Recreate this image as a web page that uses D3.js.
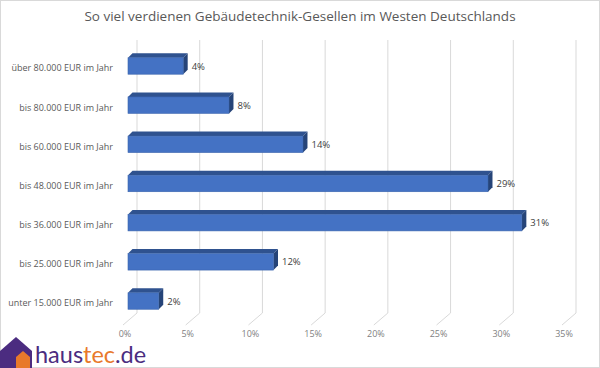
<!DOCTYPE html>
<html><head><meta charset="utf-8">
<script src="https://cdn.jsdelivr.net/npm/d3@7"></script>
<style>body{margin:0;background:#fff}svg{display:block}</style>
</head><body>
<script>
const title = "So viel verdienen Gebäudetechnik-Gesellen im Westen Deutschlands";
const categories = ["über 80.000 EUR im Jahr","bis 80.000 EUR im Jahr","bis 60.000 EUR im Jahr","bis 48.000 EUR im Jahr","bis 36.000 EUR im Jahr","bis 25.000 EUR im Jahr","unter 15.000 EUR im Jahr"];
const values = [4.4, 8.05, 13.95, 28.7, 31.4, 11.6, 2.45];
const labels = ["4%","8%","14%","29%","31%","12%","2%"];
const ticks = [0,5,10,15,20,25,30,35];
const tickLabels = ["0%","5%","10%","15%","20%","25%","30%","35%"];

const W=600,H=368;
const svg=d3.select("body").append("svg").attr("width",W).attr("height",H);
svg.append("rect").attr("x",0.5).attr("y",0.5).attr("width",W-1).attr("height",H-1).attr("fill","#fff").attr("stroke","#d9d9d9");

svg.append("text").attr("x",300).attr("y",21).attr("text-anchor","middle")
  .attr("font-family","Open Sans, sans-serif").attr("font-size",13.5).attr("fill","#595959").text(title);

const x=d3.scaleLinear().domain([0,35]).range([137,576]);
const y=d3.scaleBand().domain(categories).range([46,321]).paddingInner(0.58).paddingOuter(0.3);
const depthX=-14, depthY=12, wallBottom=313;

const g=svg.append("g");
ticks.forEach(t=>{
  g.append("line").attr("x1",x(t)).attr("x2",x(t)).attr("y1",40).attr("y2",wallBottom).attr("stroke","#d9d9d9").attr("stroke-width",1);
  g.append("line").attr("x1",x(t)).attr("x2",x(t)+depthX).attr("y1",wallBottom).attr("y2",wallBottom+depthY).attr("stroke","#d9d9d9").attr("stroke-width",1);
});
ticks.forEach((t,i)=>{
  svg.append("text").attr("x",x(t)+depthX+2).attr("y",336.5).attr("text-anchor","middle")
    .attr("font-family","Open Sans, sans-serif").attr("font-size",9).attr("fill","#7f7f7f").text(tickLabels[i]);
});

const off=-9, d=4.5;
const bars=svg.append("g");
categories.forEach((c,i)=>{
  const x0=x(0)+off, x1=x(values[i])+off, yt=y(c), h=y.bandwidth();
  bars.append("path").attr("d",`M${x0},${yt}L${x0+d},${yt-d}L${x1+d},${yt-d}L${x1},${yt}Z`).attr("fill","#2f528f");
  bars.append("path").attr("d",`M${x1},${yt}L${x1+d},${yt-d}L${x1+d},${yt+h-d}L${x1},${yt+h}Z`).attr("fill","#264478");
  bars.append("rect").attr("x",x0).attr("y",yt).attr("width",x1-x0).attr("height",h).attr("fill","#4472c4").attr("stroke","#3a64ad").attr("stroke-width",0.6);
  svg.append("text").attr("x",x1+d+4).attr("y",yt+h/2+1).attr("dominant-baseline","middle")
    .attr("font-family","Open Sans, sans-serif").attr("font-size",9.5).attr("fill","#404040").text(labels[i]);
  svg.append("text").attr("x",113).attr("y",yt+h/2+3).attr("dominant-baseline","middle").attr("text-anchor","end")
    .attr("font-family","Open Sans, sans-serif").attr("font-size",9).attr("fill","#595959").text(c);
});

const logo=svg.append("g");
logo.append("path").attr("d","M0,368L0,351L16,337L32,351L32,368Z").attr("fill","#4b2c80");
logo.append("path").attr("d","M16,368L16,357L23,351L30,357L30,368Z").attr("fill","#e8792b");
const lt=logo.append("text").attr("x",35).attr("y",363).attr("font-family","Lato, sans-serif").attr("font-size",23.5).attr("font-weight",400);
lt.append("tspan").attr("fill","#4b2c80").text("haus");
lt.append("tspan").attr("fill","#e8792b").text("tec");
lt.append("tspan").attr("fill","#4b2c80").text(".de");
</script>
</body></html>
